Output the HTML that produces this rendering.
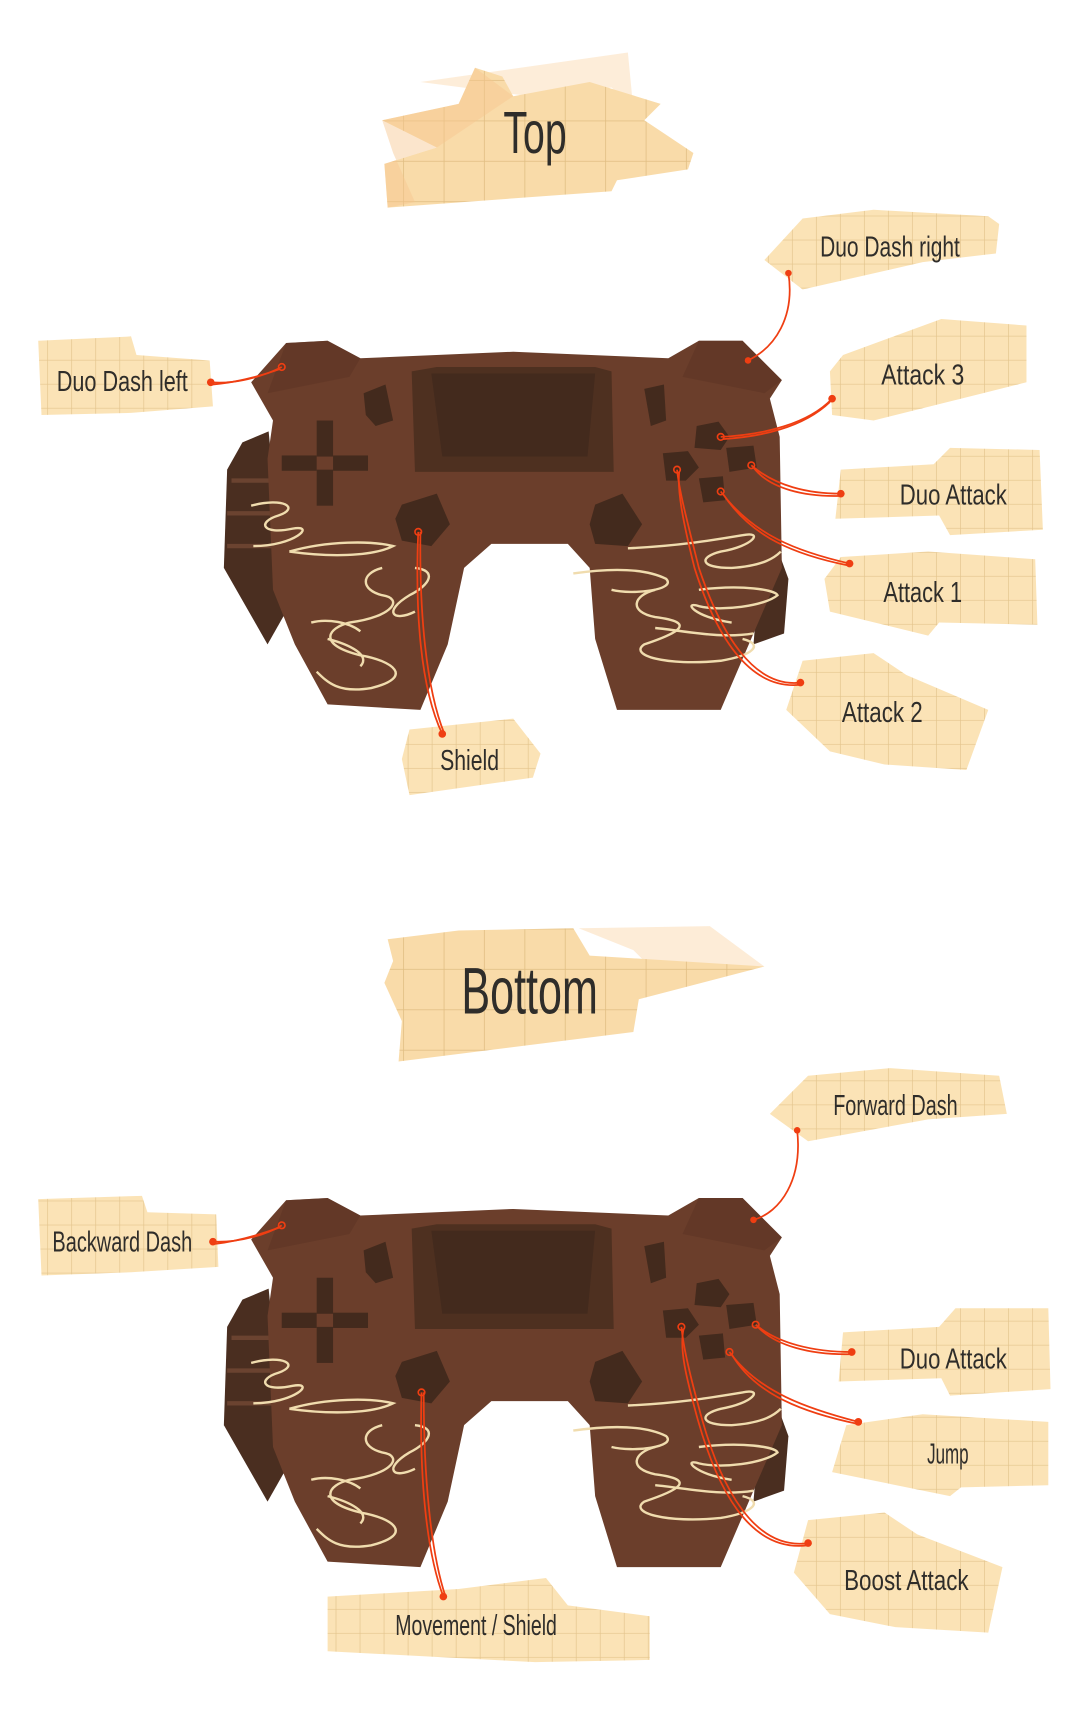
<!DOCTYPE html>
<html><head><meta charset="utf-8"><style>
html,body{margin:0;padding:0;background:#fff;}
svg{display:block;}
text{font-family:"Liberation Sans Narrow","Liberation Sans",sans-serif;fill:#2f2d2a;}
</style></head><body>
<svg width="1092" height="1719" viewBox="0 0 1000 1574" xmlns="http://www.w3.org/2000/svg">
<defs>
<pattern id="grid" width="22" height="22" patternUnits="userSpaceOnUse">
<rect width="22" height="22" fill="#fbe3b6"/>
<path d="M22 0V22M0 22H22" stroke="#e3c48c" stroke-width="1.2" fill="none"/>
</pattern>
<pattern id="grid2" width="37" height="37" patternUnits="userSpaceOnUse">
<rect width="37" height="37" fill="#f9dba9"/>
<path d="M37 0V37M0 37H37" stroke="#e0bd82" stroke-width="1.4" fill="none"/>
</pattern>
<g id="ctrl">
<polygon points="222,405 246,395 262,560 245,590 205,520 208,430" fill="#4a2e20"/>
<g stroke="#6b4330" stroke-width="4">
<line x1="212" y1="440" x2="250" y2="440"/><line x1="208" y1="470" x2="252" y2="470"/><line x1="208" y1="500" x2="254" y2="500"/>
</g>
<polygon points="700,470 722,530 718,580 690,590" fill="#4a2e20"/>
<path d="M230,350 L262,314 L300,312 L330,328 L470,322 L612,328 L640,312 L680,312 L716,348 L705,365 L714,400 L716,520 L690,580 L660,650 L565,650 L545,585 L540,520 L520,498 L450,498 L425,520 L410,590 L385,650 L300,645 L270,590 L250,540 L245,420 L250,385 Z" fill="#6b3e2b"/>
<path d="M262,314 L300,312 L330,328 L320,345 L245,360 Z" fill="#5e3524" opacity=".6"/>
<path d="M640,312 L680,312 L716,348 L700,360 L625,345 Z" fill="#5e3524" opacity=".6"/>
<polygon points="377,340 400,336 545,336 560,340 562,432 380,432" fill="#4e3020"/>
<polygon points="395,342 545,342 538,418 405,418" fill="#432a1d"/>
<polygon points="333,360 353,352 360,385 344,390 335,380" fill="#432a1d"/>
<polygon points="590,356 608,352 610,385 596,390" fill="#432a1d"/>
<rect x="290" y="385" width="15" height="33" fill="#432a1d"/>
<rect x="290" y="430" width="15" height="33" fill="#432a1d"/>
<rect x="258" y="417" width="32" height="14" fill="#432a1d"/>
<rect x="305" y="417" width="32" height="14" fill="#432a1d"/>
<polygon points="638,390 658,386 668,400 660,412 636,410" fill="#432a1d"/>
<polygon points="607,415 630,413 640,428 628,440 610,440" fill="#432a1d"/>
<polygon points="665,410 690,408 693,428 668,432" fill="#432a1d"/>
<polygon points="640,438 662,436 664,458 644,460" fill="#432a1d"/>
<polygon points="368,462 400,452 412,480 395,500 368,495 362,475" fill="#432a1d"/>
<polygon points="545,462 570,452 588,480 575,500 545,498 540,480" fill="#432a1d"/>
<g fill="none" stroke="#f0dcae" stroke-width="2.2">
<path d="M230,463 C260,455 275,465 255,472 C235,478 240,490 268,484 C290,480 270,500 232,500"/>
<path d="M265,505 C300,495 340,495 360,500 C340,510 300,510 265,505"/>
<path d="M350,520 C330,525 330,540 350,545 C370,548 360,565 320,570 C300,575 290,590 330,600 C360,605 380,620 340,630 C310,635 300,625 290,615"/>
<path d="M380,520 C400,522 395,535 375,545 C350,560 360,570 380,560"/>
<path d="M285,570 C300,566 320,570 330,578"/>
<path d="M300,585 C320,590 340,600 330,610"/>
<path d="M575,502 C620,500 650,495 680,490 C700,486 690,500 660,505 C640,510 640,520 670,520 C700,518 710,510 715,505"/>
<path d="M525,525 C560,520 590,520 610,530 C620,540 580,545 560,540"/>
<path d="M600,540 C580,545 575,560 600,565 C640,570 620,580 590,590 C575,600 610,610 660,605 C690,600 700,590 680,585"/>
<path d="M640,540 C680,535 710,540 712,545 C700,555 660,560 640,555 C625,550 635,565 670,570"/>
<path d="M600,575 C630,578 660,585 690,580"/>
</g>
</g>
</defs>

<polygon points="385,75 575,48 580,100 560,80 500,90" fill="#fde9d0" opacity=".8"/>
<polygon points="350,110 420,95 435,62 460,70 470,88 540,75 605,95 590,110 635,140 630,155 565,165 560,175 355,190 352,150 400,135" fill="url(#grid2)"/>
<polygon points="350,110 420,95 435,62 470,88 400,135 352,150 355,190 380,185 360,140" fill="#f7c68e" opacity=".45"/>
<text x="490" y="140" font-size="54" text-anchor="middle" textLength="58" lengthAdjust="spacingAndGlyphs">Top</text>

<polygon points="530,850 650,848 700,885 610,900 580,870" fill="#fde9d0" opacity=".85"/>
<polygon points="355,860 420,852 525,850 540,875 700,885 585,915 580,945 365,972 368,935 352,900 360,880" fill="url(#grid2)"/>
<text x="485" y="928" font-size="60" text-anchor="middle" textLength="125" lengthAdjust="spacingAndGlyphs">Bottom</text>

<use href="#ctrl"/>
<use href="#ctrl" transform="translate(0,785)"/>

<polygon points="700,238 735,200 800,192 905,198 915,205 912,232 845,240 735,265" fill="url(#grid)"/>
<text x="815" y="235" font-size="26" text-anchor="middle" textLength="128" lengthAdjust="spacingAndGlyphs">Duo Dash right</text>
<polygon points="35,312 120,308 125,325 192,330 195,372 120,378 38,380" fill="url(#grid)"/>
<text x="112" y="358" font-size="26" text-anchor="middle" textLength="120" lengthAdjust="spacingAndGlyphs">Duo Dash left</text>
<polygon points="772,325 862,292 940,298 940,350 900,360 800,385 762,380 760,340" fill="url(#grid)"/>
<text x="845" y="352" font-size="26" text-anchor="middle" textLength="76" lengthAdjust="spacingAndGlyphs">Attack 3</text>
<polygon points="770,430 855,425 870,410 952,412 955,485 870,490 860,472 765,475" fill="url(#grid)"/>
<text x="873" y="462" font-size="26" text-anchor="middle" textLength="98" lengthAdjust="spacingAndGlyphs">Duo Attack</text>
<polygon points="770,510 850,505 948,512 950,572 860,570 850,582 760,560 755,530" fill="url(#grid)"/>
<text x="845" y="551" font-size="26" text-anchor="middle" textLength="72" lengthAdjust="spacingAndGlyphs">Attack 1</text>
<polygon points="735,605 800,598 830,618 905,650 885,705 810,700 760,688 720,650" fill="url(#grid)"/>
<text x="808" y="661" font-size="26" text-anchor="middle" textLength="74" lengthAdjust="spacingAndGlyphs">Attack 2</text>
<polygon points="375,668 470,658 495,690 488,712 375,728 368,695" fill="url(#grid)"/>
<text x="430" y="705" font-size="26" text-anchor="middle" textLength="54" lengthAdjust="spacingAndGlyphs">Shield</text>

<polygon points="705,1020 740,985 815,978 915,985 922,1020 850,1025 740,1045" fill="url(#grid)"/>
<text x="820" y="1021" font-size="26" text-anchor="middle" textLength="114" lengthAdjust="spacingAndGlyphs">Forward Dash</text>
<polygon points="35,1098 130,1095 135,1110 198,1112 200,1160 120,1165 38,1168" fill="url(#grid)"/>
<text x="112" y="1146" font-size="26" text-anchor="middle" textLength="128" lengthAdjust="spacingAndGlyphs">Backward Dash</text>
<polygon points="772,1220 860,1215 875,1198 960,1198 962,1272 870,1278 862,1262 768,1265" fill="url(#grid)"/>
<text x="873" y="1253" font-size="26" text-anchor="middle" textLength="98" lengthAdjust="spacingAndGlyphs">Duo Attack</text>
<polygon points="775,1305 845,1295 960,1302 960,1360 880,1362 870,1370 762,1348" fill="url(#grid)"/>
<text x="868" y="1340" font-size="26" text-anchor="middle" textLength="38" lengthAdjust="spacingAndGlyphs">Jump</text>
<polygon points="740,1392 810,1385 840,1405 918,1435 905,1495 820,1490 760,1478 727,1440" fill="url(#grid)"/>
<text x="830" y="1456" font-size="26" text-anchor="middle" textLength="114" lengthAdjust="spacingAndGlyphs">Boost Attack</text>
<polygon points="300,1462 420,1455 500,1445 520,1470 595,1480 595,1520 490,1522 300,1512" fill="url(#grid)"/>
<text x="436" y="1497" font-size="26" text-anchor="middle" textLength="148" lengthAdjust="spacingAndGlyphs">Movement / Shield</text>

<g fill="none" stroke="#ef3e12" stroke-width="1.6">
<path d="M193,350 C215,352 240,345 258,336"/><path d="M195,352 C220,350 245,342 256,338"/>
<path d="M722,250 C728,290 710,318 685,330"/>
<path d="M762,365 C740,388 700,398 660,400"/><path d="M760,368 C735,392 695,400 662,402"/>
<path d="M770,452 C740,452 710,445 688,426"/><path d="M770,454 C738,455 705,448 690,428"/>
<path d="M778,516 C730,505 690,490 660,450"/><path d="M778,518 C728,508 688,492 662,452"/>
<path d="M733,625 C690,630 660,580 640,520 C630,480 622,450 620,430"/><path d="M733,627 C685,632 655,580 636,520 C626,480 620,450 622,432"/>
<path d="M383,487 C380,560 385,630 405,672"/><path d="M385,487 C384,560 390,630 407,672"/>
<path d="M195,1137 C220,1138 245,1130 258,1122"/><path d="M197,1139 C222,1136 245,1128 256,1124"/>
<path d="M730,1035 C735,1080 715,1110 690,1117"/>
<path d="M780,1238 C745,1238 712,1230 692,1213"/><path d="M780,1240 C742,1241 710,1232 694,1215"/>
<path d="M786,1302 C740,1290 695,1275 668,1238"/><path d="M786,1304 C738,1294 692,1278 670,1240"/>
<path d="M740,1413 C690,1420 660,1360 643,1300 C632,1260 626,1235 624,1215"/><path d="M740,1415 C685,1422 656,1360 639,1300 C628,1260 622,1235 626,1217"/>
<path d="M386,1275 C384,1350 390,1420 406,1462"/><path d="M388,1275 C388,1350 394,1420 408,1462"/>
</g>
<g fill="#ef3e12">
<circle cx="193" cy="350" r="3.5"/><circle cx="722" cy="250" r="3"/><circle cx="762" cy="365" r="3.5"/>
<circle cx="770" cy="452" r="3.5"/><circle cx="778" cy="516" r="3.5"/><circle cx="733" cy="625" r="3.5"/>
<circle cx="405" cy="672" r="3.5"/><circle cx="685" cy="330" r="3"/>
<circle cx="195" cy="1137" r="3.5"/><circle cx="730" cy="1035" r="3"/><circle cx="780" cy="1238" r="3.5"/>
<circle cx="786" cy="1302" r="3.5"/><circle cx="740" cy="1413" r="3.5"/><circle cx="406" cy="1462" r="3.5"/>
<circle cx="690" cy="1117" r="3"/>
</g>
<g fill="none" stroke="#ef3e12" stroke-width="1.5">
<circle cx="258" cy="336" r="3"/><circle cx="660" cy="400" r="3"/><circle cx="688" cy="426" r="3"/>
<circle cx="660" cy="450" r="3"/><circle cx="620" cy="430" r="3"/><circle cx="383" cy="487" r="3"/>
<circle cx="258" cy="1122" r="3"/><circle cx="692" cy="1213" r="3"/><circle cx="668" cy="1238" r="3"/>
<circle cx="624" cy="1215" r="3"/><circle cx="386" cy="1275" r="3"/>
</g>
</svg>
</body></html>
